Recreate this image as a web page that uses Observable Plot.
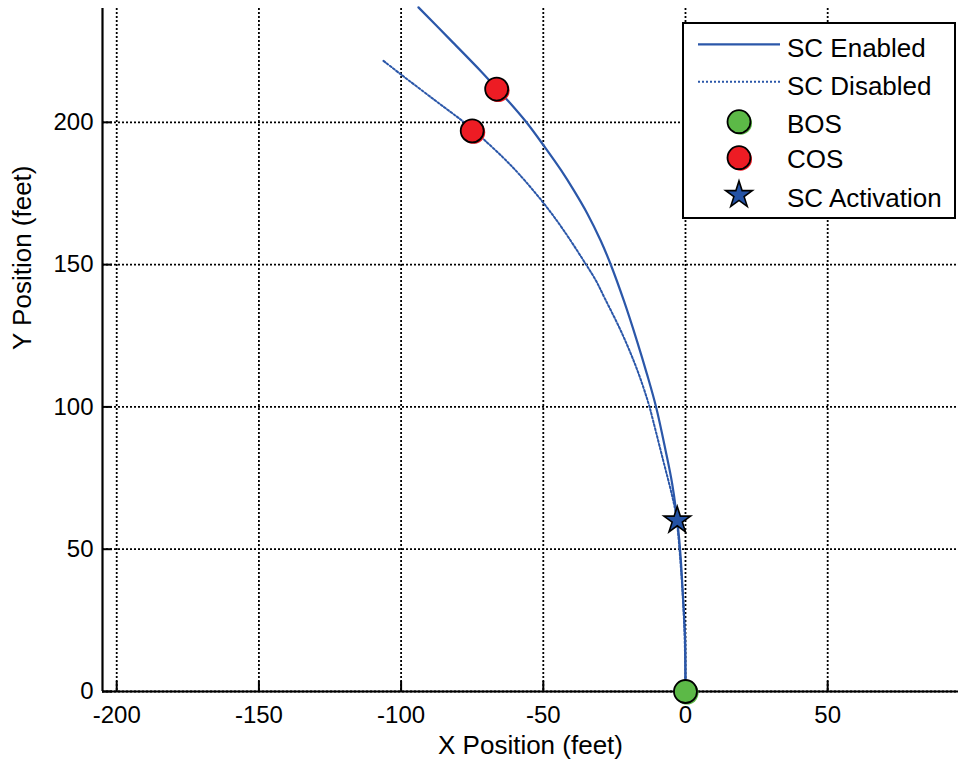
<!DOCTYPE html>
<html>
<head>
<meta charset="utf-8">
<script src="https://cdn.jsdelivr.net/npm/d3@7"></script>
<script src="https://cdn.jsdelivr.net/npm/@observablehq/plot@0.6"></script>
<style>
  body { margin: 0; background: #fff; }
  #chart svg { display: block; overflow: visible; }
</style>
</head>
<body>
<div id="chart"></div>
<script>
// Ground track of the vehicle, feet
const enabledX = [0, -0.1, -0.9, -1.8, -2.9, -4.7, -7.0, -10.3, -13.6, -17.1, -21.7, -26.4, -29.8, -34.5, -39.2, -43.7, -49.4, -56.0, -61.7, -66.2, -71.7, -82.5, -93.9];
const enabledY = [0, 17.9, 33.7, 48.5, 60.1, 73.1, 84.7, 99.8, 111.7, 123.3, 137.4, 150.3, 158.4, 167.9, 176.0, 183.1, 191.2, 200.1, 206.8, 211.7, 217.7, 228.8, 240.4];

const disabledX = [0, -0.3, -1.0, -1.8, -2.7, -3.6, -4.9, -8.1, -11.4, -13.0, -16.9, -22.3, -28.5, -31.5, -35.2, -42.8, -49.8, -58.7, -64.2, -70.5, -74.0, -78.6, -87.9, -99.5, -106.2];
const disabledY = [0, 19.0, 34.4, 46.0, 56.6, 63.6, 69.6, 82.2, 95.2, 101.2, 112.8, 125.8, 138.4, 144.4, 150.4, 162.0, 171.5, 182.0, 187.7, 193.6, 196.8, 200.6, 207.6, 216.4, 221.6];

// Event markers
const eventNames = ["BOS", "COS", "COS", "SC Activation"];
const eventX = [0, -66.4, -75.0, -2.9];
const eventY = [0, 211.7, 197.0, 60.1];

// Axes
const xTicks = [-200, -150, -100, -50, 0, 50];
const yTicks = [0, 50, 100, 150, 200];
const xDomain = [-205, 96];
const yDomain = [0, 240];
const xLabel = "X Position (feet)";
const yLabel = "Y Position (feet)";

// Legend
const legendLabels = ["SC Enabled", "SC Disabled", "BOS", "COS", "SC Activation"];

const lineColor = "#2b57a9";
const markerFill = { "BOS": "#5cb947", "COS": "#ed1c24", "SC Activation": "#2452a4" };
const markerSymbol = { "BOS": "circle", "COS": "circle", "SC Activation": "star" };
const circleR = 11.5, starR = 8.4;

const enabled = enabledX.map((x, i) => ({ x, y: enabledY[i] }));
const disabled = disabledX.map((x, i) => ({ x, y: disabledY[i] }));
const events = eventNames.map((name, i) => ({ name, x: eventX[i], y: eventY[i] }));
const circles = events.filter(d => markerSymbol[d.name] === "circle");
const stars = events.filter(d => markerSymbol[d.name] === "star");

const W = 958, H = 765;
const mL = 102, mR = 0, mT = 8, mB = 74;
const innerW = W - mL - mR, innerH = H - mT - mB;
const font = "Arial, 'Liberation Sans', sans-serif";
const dotted = "2,2";
const lineDots = "2,2";

const chart = Plot.plot({
  width: W,
  height: H,
  marginLeft: mL,
  marginRight: mR,
  marginTop: mT,
  marginBottom: mB,
  style: { fontFamily: font, background: "#fff", color: "#000" },
  x: { domain: xDomain, label: null },
  y: { domain: yDomain, label: null },
  marks: [
    // dotted grid
    Plot.ruleX(xTicks, { x: d => d, stroke: "#000", strokeWidth: 1.8, strokeDasharray: dotted }),
    Plot.ruleY(yTicks, { y: d => d, stroke: "#000", strokeWidth: 1.8, strokeDasharray: dotted }),
    // trajectories
    Plot.line(disabled, { x: "x", y: "y", stroke: lineColor, strokeWidth: 2, strokeDasharray: lineDots, curve: "catmull-rom" }),
    Plot.line(enabled, { x: "x", y: "y", stroke: lineColor, strokeWidth: 2.2, curve: "catmull-rom" }),
    // axis lines and inward ticks
    Plot.ruleX([xDomain[0]], { x: d => d, stroke: "#000", strokeWidth: 2.2 }),
    Plot.ruleY([yDomain[0]], { y: d => d, stroke: "#000", strokeWidth: 2.2 }),
    Plot.ruleX(xTicks, { x: d => d, stroke: "#000", strokeWidth: 2, insetTop: innerH - 10 }),
    Plot.ruleY(yTicks, { y: d => d, stroke: "#000", strokeWidth: 2, insetRight: innerW - 10 }),
    Plot.axisX({ ticks: xTicks, tickSize: 0, tickPadding: 14, fontSize: 24, tickFormat: d => String(d), label: null }),
    Plot.axisY({ ticks: yTicks, tickSize: 0, tickPadding: 9, fontSize: 24, tickFormat: d => String(d), label: null }),
    Plot.text([xLabel], { frameAnchor: "bottom", dy: 62, text: d => d, fontSize: 26, fill: "#000" }),
    Plot.text([yLabel], { frameAnchor: "left", dx: -80, rotate: -90, text: d => d, fontSize: 26, fill: "#000" }),
    // event markers (with a slight offset halo)
    Plot.dot(circles, { x: "x", y: "y", r: circleR, fill: d => markerFill[d.name], dx: 1.5, dy: 1.5 }),
    Plot.dot(circles, { x: "x", y: "y", r: circleR, fill: d => markerFill[d.name], stroke: "#000", strokeWidth: 1.8 }),
    Plot.dot(stars, { x: "x", y: "y", r: starR, symbol: "star", fill: d => markerFill[d.name], stroke: "#000", strokeWidth: 1.6 })
  ]
});

document.getElementById("chart").appendChild(chart);

// Legend box in the upper right of the plot area
const svg = d3.select(chart);
const lg = svg.append("g").attr("font-family", font).attr("text-anchor", "start");
lg.append("rect")
  .attr("x", 683).attr("y", 23).attr("width", 272).attr("height", 195)
  .attr("fill", "#fff").attr("stroke", "#000").attr("stroke-width", 2);

const rowBaseline = [57.3, 95, 133.3, 168.3, 206.7];
const rowMid = [44.3, 81.7, 121.7, 157.7, 195];
const sampleX0 = 698, sampleX1 = 780, sampleMid = 739, textX = 787;

legendLabels.forEach((label, i) => {
  const cy = rowMid[i];
  if (label === "SC Enabled" || label === "SC Disabled") {
    lg.append("line")
      .attr("x1", sampleX0).attr("x2", sampleX1).attr("y1", cy).attr("y2", cy)
      .attr("stroke", lineColor)
      .attr("stroke-width", label === "SC Enabled" ? 2.2 : 2)
      .attr("stroke-dasharray", label === "SC Enabled" ? null : lineDots);
  } else if (markerSymbol[label] === "circle") {
    lg.append("circle").attr("cx", sampleMid + 1.5).attr("cy", cy + 1.5).attr("r", circleR)
      .attr("fill", markerFill[label]);
    lg.append("circle").attr("cx", sampleMid).attr("cy", cy).attr("r", circleR)
      .attr("fill", markerFill[label]).attr("stroke", "#000").attr("stroke-width", 1.8);
  } else {
    lg.append("path")
      .attr("d", d3.symbol(d3.symbolStar, Math.PI * starR * starR)())
      .attr("transform", `translate(${sampleMid},${cy})`)
      .attr("fill", markerFill[label]).attr("stroke", "#000").attr("stroke-width", 1.6);
  }
  lg.append("text")
    .attr("x", textX).attr("y", rowBaseline[i])
    .attr("font-size", 26).attr("fill", "#000")
    .text(label);
});
</script>
</body>
</html>
